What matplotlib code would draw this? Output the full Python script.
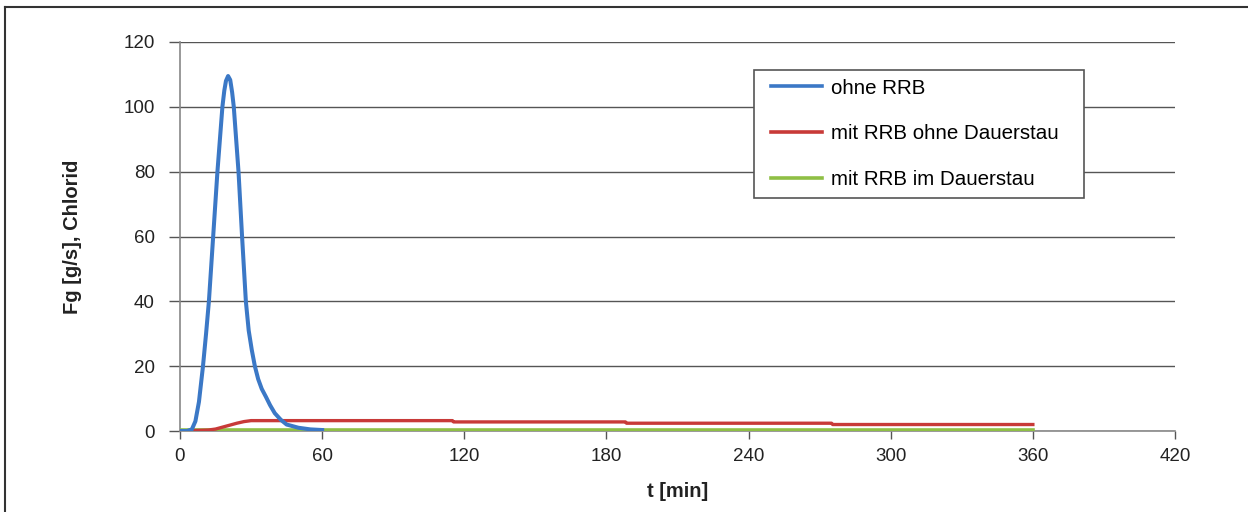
import matplotlib
matplotlib.use("Agg")
import numpy as np
import matplotlib.pyplot as plt
from matplotlib.lines import Line2D
from matplotlib.legend_handler import HandlerLine2D

plt.rcParams['font.family'] = ['Liberation Sans', 'DejaVu Sans']

# Chloride load over time
t_ohne = [0, 3, 5, 6.5, 8, 9.7, 11, 12.2, 14, 15.8, 17.9, 18.7, 19.4, 20.3, 21.2, 22,
          22.7, 24.7, 26.2, 27.8, 29, 30.3, 31.6, 33, 34.5, 36.3, 38, 40, 42.5, 45,
          50, 55, 60]
fg_ohne = [0, 0, 0.5, 3, 9, 20, 30, 40, 60, 80, 100, 105, 108, 109.5, 108.3, 104.5,
           100, 80, 60, 40, 31, 25, 20, 16, 13, 10.5, 8, 5.5, 3.5, 2,
           1, 0.5, 0.3]

t_mit = [0, 8, 12, 15, 18, 21, 24, 27, 30, 115, 115.5, 188, 188.5, 275, 275.5, 360]
fg_mit = [0, 0.2, 0.3, 0.6, 1.2, 1.8, 2.4, 2.9, 3.2, 3.2, 2.8, 2.8, 2.4, 2.4, 2.0, 2.0]

t_dauer = [0, 360]
fg_dauer = [0.2, 0.2]

labels = ["ohne RRB", "mit RRB ohne Dauerstau", "mit RRB im Dauerstau"]
colors = ["#3b78c6", "#c83a38", "#8fbf45"]

x_ticks = [0, 60, 120, 180, 240, 300, 360, 420]
y_ticks = [0, 20, 40, 60, 80, 100, 120]


class IndentedLine(HandlerLine2D):
    """Legend line that starts a little way into its handle box."""
    def get_xdata(self, legend, xdescent, ydescent, width, height, fontsize):
        x = np.array([-xdescent + 0.14 * width, -xdescent + width])
        return x, x


fig = plt.figure(figsize=(12.48, 5.12), dpi=100)
ax = fig.add_axes([180 / 1248, 1 - 431 / 512, 995 / 1248, 389 / 512])

ax.plot(t_dauer, fg_dauer, color=colors[2], lw=2.6, label=labels[2], zorder=3)
ax.plot(t_mit, fg_mit, color=colors[1], lw=2.4, label=labels[1], zorder=4)
ax.plot(t_ohne, fg_ohne, color=colors[0], lw=2.9, label=labels[0], zorder=5,
        solid_joinstyle='round')

ax.set_xlim(0, 420)
ax.set_ylim(0, 120)
ax.set_xticks(x_ticks)
ax.set_yticks(y_ticks)
ax.tick_params(axis='both', labelsize=13.5, colors='#555555', labelcolor='#222222')
ax.tick_params(axis='y', length=8, width=1, pad=10)
ax.tick_params(axis='x', length=6, width=1, pad=6.5)

ax.grid(axis='y', color='#555555', lw=1)
ax.set_axisbelow(True)
for s in ['top', 'right']:
    ax.spines[s].set_visible(False)
for s in ['left', 'bottom']:
    ax.spines[s].set_color('#888888')
    ax.spines[s].set_linewidth(1.2)

ax.set_xlabel("t [min]", fontsize=14.5, fontweight='bold', labelpad=12, color='#222222')
ax.set_ylabel("Fg [g/s], Chlorid", fontsize=14.5, fontweight='bold', labelpad=30,
              color='#222222')

handles, labs = ax.get_legend_handles_labels()
order = [2, 1, 0]
leg = ax.legend([handles[i] for i in order], [labs[i] for i in order],
                loc='upper left', bbox_to_anchor=(0.577, 0.609, 0.332, 0.319),
                mode='expand', fontsize=14.8, frameon=True, fancybox=False,
                edgecolor='#555555', framealpha=1, handlelength=2.9,
                labelspacing=1.3, borderpad=0.42, handletextpad=0.44,
                borderaxespad=0,
                handler_map={Line2D: IndentedLine()})
leg.get_frame().set_linewidth(1.2)
for h in leg.get_lines():
    h.set_linewidth(2.6)

# outer frame of the figure
fig.add_artist(Line2D([5 / 1248, 5 / 1248], [0, 1 - 7 / 512], color='#333333', lw=1.5,
                      transform=fig.transFigure))
fig.add_artist(Line2D([5 / 1248, 1], [1 - 7 / 512, 1 - 7 / 512], color='#333333', lw=1.5,
                      transform=fig.transFigure))

fig.savefig("out.png", dpi=100)
